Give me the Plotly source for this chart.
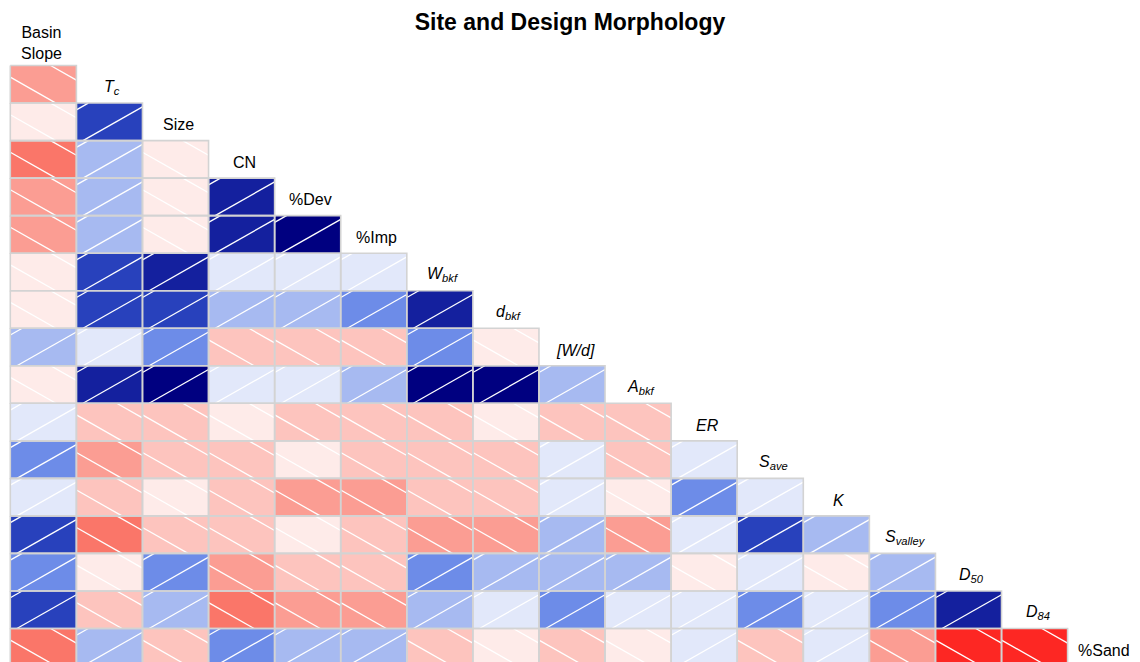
import plotly.graph_objects as go

# Variables, in matrix order (top-left to bottom-right)
variables = [
    "Basin<br>Slope", "<i>T<sub>c</sub></i>", "Size", "CN", "%Dev", "%Imp",
    "<i>W<sub>bkf</sub></i>", "<i>d<sub>bkf</sub></i>", "<i>[W/d]</i>",
    "<i>A<sub>bkf</sub></i>", "<i>ER</i>", "<i>S<sub>ave</sub></i>", "<i>K</i>",
    "<i>S<sub>valley</sub></i>", "<i>D<sub>50</sub></i>", "<i>D<sub>84</sub></i>", "%Sand",
]

# Lower-triangle correlations: each row holds r(row variable, earlier variables)
r_tc = [-0.36]
r_size = [-0.06, 0.64]
r_cn = [-0.52, 0.22, -0.04]
r_dev = [-0.38, 0.19, -0.07, 0.79]
r_imp = [-0.37, 0.21, -0.05, 0.81, 0.95]
r_wbkf = [-0.09, 0.66, 0.77, 0.05, 0.07, 0.10]
r_dbkf = [-0.11, 0.62, 0.68, 0.20, 0.23, 0.37, 0.78]
r_wd = [0.25, 0.08, 0.40, -0.21, -0.24, -0.19, 0.33, -0.06]
r_abkf = [-0.04, 0.80, 0.92, 0.06, 0.09, 0.17, 0.90, 0.88, 0.23]
r_er = [0.12, -0.19, -0.23, -0.08, -0.20, -0.26, -0.22, -0.12, -0.18, -0.21]
r_save = [0.34, -0.41, -0.17, -0.24, -0.07, -0.20, -0.23, -0.27, 0.03, -0.25, 0.08]
r_k = [0.05, -0.22, -0.10, -0.19, -0.34, -0.39, -0.21, -0.16, 0.13, -0.09, 0.36, 0.07]
r_svalley = [0.67, -0.49, -0.26, -0.21, -0.05, -0.18, -0.32, -0.37, 0.27, -0.40, 0.10, 0.63, 0.19]
r_d50 = [0.39, -0.03, 0.31, -0.42, -0.24, -0.20, 0.35, 0.16, 0.22, 0.18, -0.11, 0.02, -0.06, 0.24]
r_d84 = [0.61, -0.17, 0.26, -0.54, -0.36, -0.33, 0.21, 0.11, 0.41, 0.04, 0.13, 0.34, 0.09, 0.38, 0.75]
r_sand = [-0.47, 0.17, -0.23, 0.30, 0.28, 0.20, -0.27, -0.13, -0.19, -0.02, 0.06, -0.16, 0.12, -0.31, -0.82, -0.79]

lower_rows = [r_tc, r_size, r_cn, r_dev, r_imp, r_wbkf, r_dbkf, r_wd, r_abkf,
              r_er, r_save, r_k, r_svalley, r_d50, r_d84, r_sand]

n = len(variables)
z = [[None] * n for _ in range(n)]
for i, row in enumerate(lower_rows, start=1):
    for j, val in enumerate(row):
        z[i][j] = val

# 14-step shading palette: red - salmon - white - royalblue - navy
anchors = [(255, 0, 0), (250, 128, 114), (255, 255, 255), (65, 105, 225), (0, 0, 128)]
nbins = 14
palette = []
for k in range(nbins):
    t = k / (nbins - 1) * (len(anchors) - 1)
    a = min(int(t), len(anchors) - 2)
    f = t - a
    c = [round(anchors[a][m] * (1 - f) + anchors[a + 1][m] * f) for m in range(3)]
    palette.append("rgb(%d,%d,%d)" % tuple(c))
colorscale = []
for k, col in enumerate(palette):
    colorscale.append([k / nbins, col])
    colorscale.append([(k + 1) / nbins, col])

fig = go.Figure()
fig.add_trace(go.Heatmap(
    z=z, x=list(range(n)), y=list(range(n)),
    zmin=-1, zmax=1, colorscale=colorscale, showscale=False,
    hoverinfo="skip",
))

# White hatch lines parallel to the cell diagonal ("/" positive, "\" negative)
pos_offsets = [-0.10, 0.82]
neg_offsets = [0.69, 1.61]
hx, hy = [], []
for i in range(n):
    for j in range(i):
        val = z[i][j]
        x0, ybot = j - 0.5, i + 0.5
        if val >= 0:
            for c in pos_offsets:
                u0, u1 = max(0.0, -c), min(1.0, 1.0 - c)
                if u1 > u0:
                    hx += [x0 + u0, x0 + u1, None]
                    hy += [ybot - (u0 + c), ybot - (u1 + c), None]
        else:
            for c in neg_offsets:
                u0, u1 = max(0.0, c - 1.0), min(1.0, c)
                if u1 > u0:
                    hx += [x0 + u0, x0 + u1, None]
                    hy += [ybot - (c - u0), ybot - (c - u1), None]
fig.add_trace(go.Scatter(x=hx, y=hy, mode="lines",
                         line=dict(color="white", width=1.3),
                         hoverinfo="skip", showlegend=False))

# Light grey cell borders
bx, by = [], []
for i in range(n):
    for j in range(i):
        bx += [j - 0.5, j + 0.5, j + 0.5, j - 0.5, j - 0.5, None]
        by += [i - 0.5, i - 0.5, i + 0.5, i + 0.5, i - 0.5, None]
fig.add_trace(go.Scatter(x=bx, y=by, mode="lines",
                         line=dict(color="#D3D3D3", width=1.6),
                         hoverinfo="skip", showlegend=False))

# Variable names on the diagonal
for k, name in enumerate(variables):
    two_line = "<br>" in name
    fig.add_annotation(x=k, y=k, text=name, showarrow=False,
                       xanchor="center", yanchor="middle",
                       xshift=(-2 if two_line else 3),
                       yshift=(4 if two_line else -3),
                       font=dict(size=16, color="black"))

fig.update_layout(
    width=1140, height=662,
    margin=dict(l=7, r=3, t=28, b=0),
    paper_bgcolor="white", plot_bgcolor="white",
    font=dict(family="Liberation Sans, Arial, sans-serif", color="black"),
    title=dict(text="<b>Site and Design Morphology</b>", x=0.5, xanchor="center",
               y=1 - 22 / 662, yanchor="middle", yref="container",
               font=dict(size=23, color="black")),
    xaxis=dict(range=[-0.55, 16.55], visible=False, fixedrange=True),
    yaxis=dict(range=[16.393, -0.5], visible=False, fixedrange=True),
    showlegend=False,
)

fig.write_html("out.html")
